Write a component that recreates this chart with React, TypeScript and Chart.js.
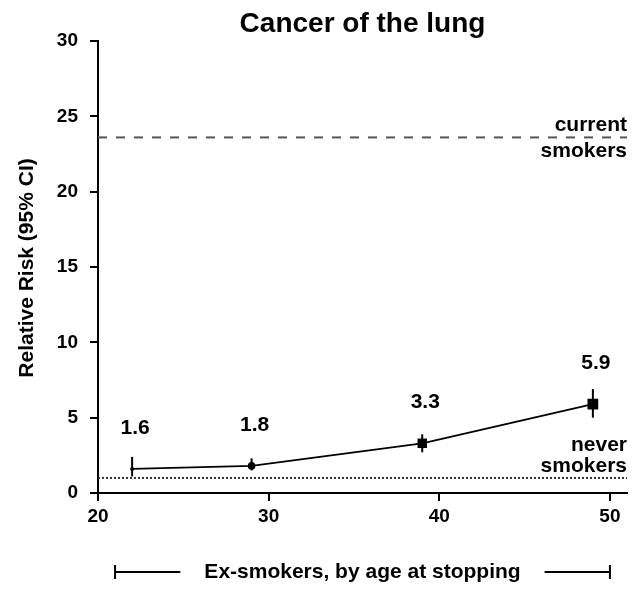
import React, { useEffect, useRef } from "react";
import { Chart, registerables } from "chart.js";

Chart.register(...registerables);

// ---- data ----
const ages = [22, 29, 39, 49];
const relativeRisk = [1.6, 1.8, 3.3, 5.9];
const ciLow = [1.1, 1.5, 2.7, 5.0];
const ciHigh = [2.4, 2.3, 3.9, 6.9];
const riskLabels = ["1.6", "1.8", "3.3", "5.9"];
const markerRadius = [2, 3.8, 6.7, 7.6];
const markerStyle = ["circle", "circle", "rect", "rect"];
const currentSmokersRR = 23.6;
const neverSmokersRR = 1.0;
const xRange = [20, 51];
const yRange = [0, 30];
const xTickStep = 10;
const yTickStep = 5;
const bracketRange = [21, 50];

const titleText = "Cancer of the lung";
const yTitleText = "Relative Risk (95% CI)";
const xTitleText = "Ex-smokers, by age at stopping";

const FONT = "'Liberation Sans', Arial, Helvetica, sans-serif";

const annotationPlugin = {
  id: "annotations",
  afterDatasetsDraw(chart: any) {
    const { ctx, chartArea, scales } = chart;
    const xs = scales.x;
    const ys = scales.y;
    ctx.save();
    // error bars
    ctx.strokeStyle = "#000";
    ctx.lineWidth = 2;
    for (let i = 0; i < ages.length; i++) {
      const px = xs.getPixelForValue(ages[i]);
      ctx.beginPath();
      ctx.moveTo(px, ys.getPixelForValue(ciLow[i]));
      ctx.lineTo(px, ys.getPixelForValue(ciHigh[i]));
      ctx.stroke();
    }
    // value labels
    ctx.fillStyle = "#000";
    ctx.font = `bold 21px ${FONT}`;
    ctx.textAlign = "center";
    ctx.textBaseline = "alphabetic";
    for (let i = 0; i < ages.length; i++) {
      const px = xs.getPixelForValue(ages[i]);
      const py = ys.getPixelForValue(relativeRisk[i]);
      ctx.fillText(riskLabels[i], px + 3, py - 35);
    }
    // reference labels
    ctx.textAlign = "right";
    const right = chartArea.right;
    const yc = ys.getPixelForValue(currentSmokersRR);
    ctx.fillText("current", right, yc - 6);
    ctx.fillText("smokers", right, yc + 20);
    const yn = ys.getPixelForValue(neverSmokersRR);
    ctx.fillText("never", right, yn - 27);
    ctx.fillText("smokers", right, yn - 6);

    // title
    ctx.textAlign = "center";
    ctx.textBaseline = "middle";
    ctx.font = `bold 28px ${FONT}`;
    ctx.fillText(titleText, (chartArea.left + chartArea.right) / 2, 24);

    // y title
    ctx.font = `bold 21px ${FONT}`;
    ctx.save();
    ctx.translate(27, (chartArea.top + chartArea.bottom) / 2 + 1);
    ctx.rotate(-Math.PI / 2);
    ctx.fillText(yTitleText, 0, 0);
    ctx.restore();

    // x bracket title
    ctx.font = `bold 21px ${FONT}`;
    const bx0 = xs.getPixelForValue(bracketRange[0]);
    const bx1 = xs.getPixelForValue(bracketRange[1]);
    const by = 572;
    const cx = (bx0 + bx1) / 2;
    ctx.fillText(xTitleText, cx, by);
    const tw = ctx.measureText(xTitleText).width;
    ctx.lineWidth = 2;
    ctx.beginPath();
    ctx.moveTo(bx0, by);
    ctx.lineTo(cx - tw / 2 - 24, by);
    ctx.moveTo(cx + tw / 2 + 24, by);
    ctx.lineTo(bx1, by);
    ctx.moveTo(bx0, by - 7);
    ctx.lineTo(bx0, by + 7);
    ctx.moveTo(bx1, by - 7);
    ctx.lineTo(bx1, by + 7);
    ctx.stroke();
    ctx.restore();
  },
};

export default function App() {
  const ref = useRef<HTMLCanvasElement>(null);
  useEffect(() => {
    if (!ref.current) return;
    const chart = new Chart(ref.current, {
      type: "line",
      data: {
        datasets: [
          {
            label: "current smokers",
            data: [
              { x: xRange[0], y: currentSmokersRR },
              { x: xRange[1], y: currentSmokersRR },
            ],
            borderColor: "#555",
            borderWidth: 2,
            borderDash: [9, 9],
            pointRadius: 0,
          },
          {
            label: "never smokers",
            data: [
              { x: xRange[0], y: neverSmokersRR },
              { x: xRange[1], y: neverSmokersRR },
            ],
            borderColor: "#333",
            borderWidth: 2,
            borderDash: [2, 2],
            pointRadius: 0,
          },
          {
            label: "ex-smokers",
            data: ages.map((a, i) => ({ x: a, y: relativeRisk[i] })),
            borderColor: "#000",
            backgroundColor: "#000",
            borderWidth: 1.8,
            pointRadius: markerRadius,
            pointStyle: markerStyle as any,
            pointBorderWidth: 0,
            pointBackgroundColor: "#000",
          },
        ],
      },
      options: {
        animation: false,
        responsive: false,
        layout: { padding: { left: 0, right: 10, top: 41, bottom: 0 } },
        plugins: {
          legend: { display: false },
          tooltip: { enabled: false },
          title: { display: false },
        },
        scales: {
          x: {
            type: "linear",
            min: xRange[0],
            max: xRange[1],
            afterFit: (s: any) => {
              s.height = 97;
            },
            afterBuildTicks: (s: any) => {
              const t = [];
              for (let v = xRange[0]; v <= xRange[1]; v += xTickStep) t.push({ value: v });
              s.ticks = t;
            },
            ticks: {
              color: "#000",
              font: { family: FONT, size: 19, weight: "bold" },
              padding: 4,
              maxRotation: 0,
            },
            grid: {
              drawOnChartArea: false,
              drawTicks: true,
              tickLength: 8,
              color: "#000",
              lineWidth: 2,
            },
            border: { display: true, color: "#000", width: 2 },
          },
          y: {
            type: "linear",
            min: yRange[0],
            max: yRange[1],
            afterFit: (s: any) => {
              s.width = 98;
            },
            ticks: {
              stepSize: yTickStep,
              color: "#000",
              font: { family: FONT, size: 19, weight: "bold" },
              padding: 12,
            },
            grid: {
              drawOnChartArea: false,
              drawTicks: true,
              tickLength: 8,
              color: "#000",
              lineWidth: 2,
            },
            border: { display: true, color: "#000", width: 2 },
          },
        },
      },
      plugins: [annotationPlugin],
    });
    return () => chart.destroy();
  }, []);
  return (
    <div style={{ position: "fixed", left: 0, top: 0, width: 637, height: 590, background: "#fff" }}>
      <canvas ref={ref} width={637} height={590} style={{ width: 637, height: 590 }} />
    </div>
  );
}
